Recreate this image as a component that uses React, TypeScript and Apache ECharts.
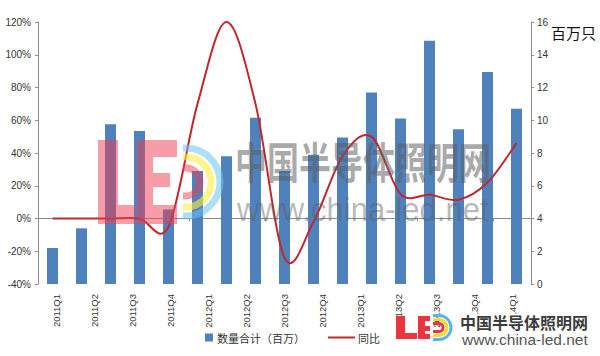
import React, { useEffect, useRef } from 'react';
import * as echarts from 'echarts';

// ---- data ----
const xLabels = ['2011Q1', '2011Q2', '2011Q3', '2011Q4', '2012Q1', '2012Q2', '2012Q3', '2012Q4', '2013Q1', '2013Q2', '2013Q3', '2013Q4', '2014Q1'];
const barQuarters = ['2010Q1', '2010Q2', '2010Q3', '2010Q4', '2011Q1', '2011Q2', '2011Q3', '2011Q4', '2012Q1', '2012Q2', '2012Q3', '2012Q4', '2013Q1', '2013Q2', '2013Q3', '2013Q4', '2014Q1'];
const quantityMillions = [2.2, 3.4, 9.75, 9.35, 4.55, 6.9, 7.8, 10.15, 6.9, 7.9, 8.95, 11.7, 10.1, 14.85, 9.45, 12.95, 10.7];
const yoyPercent = [0, 0, 0, 0, -5, 70, 120, 70, -24, -2, 38, 50, 15, 14.5, 11.5, 22, 46];
const leftTicks = { min: -40, max: 120, interval: 20 };
const rightTicks = { min: 0, max: 16, interval: 2 };
const barName = '数量合计（百万）';
const lineName = '同比';
const unitLabel = '百万只';

const barColor = '#4f81bd';
const lineColor = '#c0282d';
const axisGray = '#8c8c8c';
const labelFont = '"Liberation Sans", Arial, sans-serif';
const cjkFont = '"Noto Sans CJK SC", sans-serif';

function dArcs(cx: number, cy: number, radii: number[], colors: string[], lw: number, flat: number, z: number) {
  const els: any[] = [];
  radii.forEach((r, i) => {
    els.push({
      type: 'arc', z,
      shape: { cx, cy, r, startAngle: -Math.PI / 2, endAngle: Math.PI / 2, clockwise: true },
      style: { stroke: colors[i], lineWidth: lw, fill: 'none' },
    });
    if (flat > 0) {
      els.push({ type: 'line', z, shape: { x1: cx - flat, y1: cy - r, x2: cx, y2: cy - r }, style: { stroke: colors[i], lineWidth: lw } });
      els.push({ type: 'line', z, shape: { x1: cx - flat, y1: cy + r, x2: cx, y2: cy + r }, style: { stroke: colors[i], lineWidth: lw } });
    }
  });
  return els;
}

export default function App() {
  const ref = useRef<HTMLDivElement>(null);
  useEffect(() => {
    if (!ref.current) return;
    const chart = echarts.init(ref.current, undefined, { renderer: 'svg' });

    const pink = 'rgba(238,60,80,0.5)';
    const wmZ = 100;
    const watermark: any[] = [
      // "LE" blocks
      { type: 'rect', z: wmZ, shape: { x: 98, y: 140, width: 20, height: 84 }, style: { fill: pink } },
      { type: 'rect', z: wmZ, shape: { x: 118, y: 205, width: 17, height: 19 }, style: { fill: pink } },
      { type: 'rect', z: wmZ, shape: { x: 137, y: 140, width: 16, height: 84 }, style: { fill: pink } },
      { type: 'rect', z: wmZ, shape: { x: 153, y: 140, width: 24, height: 17 }, style: { fill: pink } },
      { type: 'rect', z: wmZ, shape: { x: 153, y: 173, width: 17, height: 14 }, style: { fill: pink } },
      { type: 'rect', z: wmZ, shape: { x: 153, y: 205, width: 24, height: 19 }, style: { fill: pink } },
      ...dArcs(186, 182, [34, 25, 14], ['rgba(110,195,240,0.55)', 'rgba(255,238,60,0.6)', pink], 7, 3, wmZ),
      {
        type: 'text', z: wmZ, x: 235, y: 160, scaleY: 1.35, originX: 0, originY: 0,
        style: { text: '中国半导体照明网', font: `bold 32px ${cjkFont}`, fill: 'rgba(95,95,95,0.55)', textAlign: 'left', textVerticalAlign: 'middle', align: 'left', verticalAlign: 'middle' },
      },
      {
        type: 'text', z: wmZ, x: 237, y: 209, scaleY: 1.1, originX: 0, originY: 0,
        style: { text: 'www.china-led.net', font: `31px ${labelFont}`, fill: 'rgba(95,95,95,0.45)', textAlign: 'left', textVerticalAlign: 'middle', align: 'left', verticalAlign: 'middle' },
      },
    ];

    const red = '#e8353f';
    const logo: any[] = [
      { type: 'rect', z: 110, shape: { x: 455, y: 314, width: 142, height: 37 }, style: { fill: '#ffffff' } },
      { type: 'rect', z: 111, shape: { x: 396, y: 316, width: 9, height: 23 }, style: { fill: red } },
      { type: 'rect', z: 111, shape: { x: 405, y: 333, width: 12, height: 6 }, style: { fill: red } },
      { type: 'rect', z: 111, shape: { x: 418, y: 316, width: 7, height: 23 }, style: { fill: red } },
      { type: 'rect', z: 111, shape: { x: 425, y: 316, width: 5, height: 5 }, style: { fill: red } },
      { type: 'rect', z: 111, shape: { x: 425, y: 326, width: 5, height: 5 }, style: { fill: red } },
      { type: 'rect', z: 111, shape: { x: 425, y: 334, width: 5, height: 5 }, style: { fill: red } },
      ...dArcs(439, 327.5, [12, 8, 4], ['#5ab4e6', '#f5dc2a', red], 3, 6, 111),
      {
        type: 'text', z: 111, x: 460, y: 322,
        style: { text: '中国半导体照明网', font: `bold 16px ${cjkFont}`, fill: '#3c3c3c', textAlign: 'left', textVerticalAlign: 'middle', align: 'left', verticalAlign: 'middle' },
      },
      {
        type: 'text', z: 111, x: 462, y: 339,
        style: { text: 'www.china-led.net', font: `15.5px ${labelFont}`, fill: '#555555', textAlign: 'left', textVerticalAlign: 'middle', align: 'left', verticalAlign: 'middle' },
      },
    ];

    const unit = {
      type: 'text', z: 50, x: 551, y: 32,
      style: { text: unitLabel, font: `15px ${cjkFont}`, fill: '#111111', textAlign: 'left', textVerticalAlign: 'middle', align: 'left', verticalAlign: 'middle' },
    };

    const option: any = {
      animation: false,
      backgroundColor: '#ffffff',
      grid: { left: 38, right: 69, top: 22, bottom: 72, containLabel: false },
      legend: [
        {
          data: [{ name: barName, icon: 'rect' }],
          left: 200, top: 327, itemWidth: 8, itemHeight: 8, itemGap: 5,
          textStyle: { fontSize: 11, color: '#333', fontFamily: cjkFont, padding: [0, 0, 0, -1] },
        },
        {
          data: [{ name: lineName, icon: 'rect', itemStyle: { color: lineColor } }],
          left: 323, top: 327, itemWidth: 27, itemHeight: 2,
          textStyle: { fontSize: 11, color: '#333', fontFamily: cjkFont, padding: [0, 0, 0, -2] },
        },
      ],
      xAxis: [
        {
          type: 'category', data: xLabels, position: 'bottom', gridIndex: 0,
          axisLine: { show: false, onZero: false }, axisTick: { show: false },
          axisLabel: { rotate: 90, fontSize: 9.5, color: '#333', fontFamily: labelFont, margin: 10, interval: 0 },
          splitLine: { show: false },
        },
        {
          type: 'category', data: barQuarters, position: 'bottom', show: false,
        },
        {
          type: 'category', data: xLabels, position: 'bottom',
          axisLine: { show: true, onZero: true, onZeroAxisIndex: 0, lineStyle: { color: axisGray, width: 1 } },
          axisTick: { show: true, length: 3, lineStyle: { color: axisGray } },
          axisLabel: { show: false }, splitLine: { show: false },
        },
      ],
      yAxis: [
        {
          type: 'value', position: 'left', min: leftTicks.min, max: leftTicks.max, interval: leftTicks.interval,
          axisLine: { show: true, lineStyle: { color: axisGray } },
          axisTick: { show: true, length: 3, lineStyle: { color: axisGray } },
          axisLabel: { formatter: '{value}%', fontSize: 10, color: '#333', fontFamily: labelFont, margin: 7 },
          splitLine: { show: false },
        },
        {
          type: 'value', position: 'right', min: rightTicks.min, max: rightTicks.max, interval: rightTicks.interval,
          axisLine: { show: true, lineStyle: { color: axisGray } },
          axisTick: { show: true, length: 3, lineStyle: { color: axisGray } },
          axisLabel: { fontSize: 10, color: '#333', fontFamily: labelFont, margin: 6 },
          splitLine: { show: false },
        },
      ],
      series: [
        {
          name: barName, type: 'bar', xAxisIndex: 1, yAxisIndex: 1,
          data: quantityMillions, barWidth: 11, itemStyle: { color: barColor }, z: 2,
        },
        {
          name: lineName, type: 'custom', xAxisIndex: 1, yAxisIndex: 0, z: 3,
          itemStyle: { color: lineColor },
          data: yoyPercent.map((v, i) => [i, v]),
          encode: { x: 0, y: 1 },
          renderItem: (params: any, api: any) => {
            if (params.dataIndex !== 0) return null;
            const pts = yoyPercent.map((v, i) => api.coord([i, v]));
            let d = `M${pts[0][0]},${pts[0][1]}`;
            for (let i = 0; i < pts.length - 1; i++) {
              const p0 = pts[Math.max(i - 1, 0)];
              const p1 = pts[i];
              const p2 = pts[i + 1];
              const p3 = pts[Math.min(i + 2, pts.length - 1)];
              const c1x = p1[0] + (p2[0] - p0[0]) / 6;
              const c1y = p1[1] + (p2[1] - p0[1]) / 6;
              const c2x = p2[0] - (p3[0] - p1[0]) / 6;
              const c2y = p2[1] - (p3[1] - p1[1]) / 6;
              d += ` C${c1x},${c1y} ${c2x},${c2y} ${p2[0]},${p2[1]}`;
            }
            return {
              type: 'path',
              shape: { pathData: d },
              style: { fill: 'none', stroke: lineColor, lineWidth: 2 },
            };
          },
        },
      ],
      graphic: { elements: [...watermark, ...logo, unit] },
    };

    chart.setOption(option);
    return () => chart.dispose();
  }, []);

  return <div ref={ref} style={{ position: 'fixed', left: 0, top: 0, width: 600, height: 356 }} />;
}
